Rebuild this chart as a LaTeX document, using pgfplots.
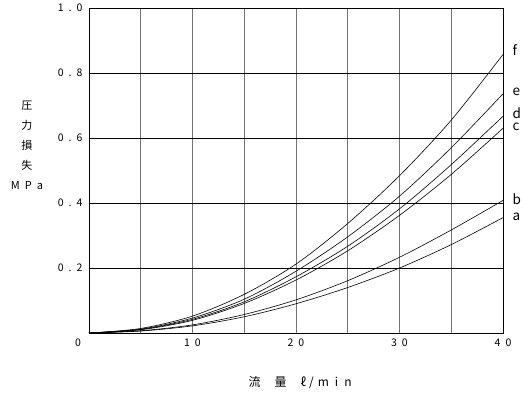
\documentclass[border=0pt]{standalone}
\usepackage{fontspec}
\setmainfont{Noto Sans CJK JP}
\usepackage{pgfplots}
\pgfplotsset{compat=1.18}
\begin{document}
\begin{tikzpicture}
\path[use as bounding box] (-89bp,-61bp) rectangle (436bp,333bp);
\begin{axis}[
  scale only axis, width=414bp, height=325bp,
  xmin=0, xmax=40, ymin=0, ymax=1,
  xtick={0,5,...,40},
  xticklabels={\makebox[0pt][r]{0\hspace{8bp}},,1\hspace{5bp}0,,2\hspace{5bp}0,,3\hspace{5bp}0,,4\hspace{5bp}0},
  ytick={0.2,0.4,0.6,0.8,1.0},
  yticklabels={0\hspace{5bp}.\hspace{5bp}2,0\hspace{5bp}.\hspace{5bp}4,0\hspace{5bp}.\hspace{5bp}6,0\hspace{5bp}.\hspace{5bp}8,1\hspace{5bp}.\hspace{5bp}0},
  major tick length=0pt,
  grid=major,
  x grid style={black!55, line width=0.9bp},
  y grid style={black, line width=0.9bp},
  axis line style={black, line width=0.9bp},
  tick label style={font=\fontsize{10.5bp}{11bp}\selectfont},
  yticklabel style={xshift=-3bp},
  xticklabel style={yshift=-2bp},
  clip=false,
]
\addplot[black, line width=0.6bp, smooth] coordinates {(0,0) (5,0.014) (10,0.052) (15,0.119) (20,0.212) (25,0.337) (30,0.484) (35,0.655) (40,0.857)};
\addplot[black, line width=0.6bp, smooth] coordinates {(0,0) (5,0.012) (10,0.046) (15,0.104) (20,0.190) (25,0.296) (30,0.421) (35,0.570) (40,0.736)};
\addplot[black, line width=0.6bp, smooth] coordinates {(0,0) (5,0.011) (10,0.042) (15,0.096) (20,0.173) (25,0.267) (30,0.382) (35,0.518) (40,0.667)};
\addplot[black, line width=0.6bp, smooth] coordinates {(0,0) (5,0.010) (10,0.039) (15,0.091) (20,0.163) (25,0.253) (30,0.362) (35,0.488) (40,0.630)};
\addplot[black, line width=0.6bp, smooth] coordinates {(0,0) (5,0.007) (10,0.025) (15,0.057) (20,0.102) (25,0.161) (30,0.233) (35,0.317) (40,0.408)};
\addplot[black, line width=0.6bp, smooth] coordinates {(0,0) (5,0.006) (10,0.022) (15,0.050) (20,0.090) (25,0.140) (30,0.200) (35,0.272) (40,0.355)};
\node[anchor=west, font=\fontsize{13.5bp}{14bp}\selectfont, xshift=6bp] at (axis cs:40,0.871) {f};
\node[anchor=west, font=\fontsize{13.5bp}{14bp}\selectfont, xshift=6bp] at (axis cs:40,0.743) {e};
\node[anchor=west, font=\fontsize{13.5bp}{14bp}\selectfont, xshift=6bp] at (axis cs:40,0.677) {d};
\node[anchor=west, font=\fontsize{13.5bp}{14bp}\selectfont, xshift=6bp] at (axis cs:40,0.635) {c};
\node[anchor=west, font=\fontsize{13.5bp}{14bp}\selectfont, xshift=6bp] at (axis cs:40,0.412) {b};
\node[anchor=west, font=\fontsize{13.5bp}{14bp}\selectfont, xshift=6bp] at (axis cs:40,0.358) {a};
\node[align=center, font=\fontsize{11bp}{20bp}\selectfont, xshift=-62bp] at (axis cs:0,0.578) {圧\\力\\損\\失\\M\hspace{5bp}P\hspace{5bp}a};
\node[font=\fontsize{12bp}{12bp}\selectfont, yshift=-50bp] at (axis cs:20.4,0) {流\hspace{14bp}量\hspace{14bp}ℓ\hspace{3bp}/\hspace{4bp}m\hspace{6bp}i\hspace{6bp}n};
\end{axis}
\end{tikzpicture}
\end{document}
